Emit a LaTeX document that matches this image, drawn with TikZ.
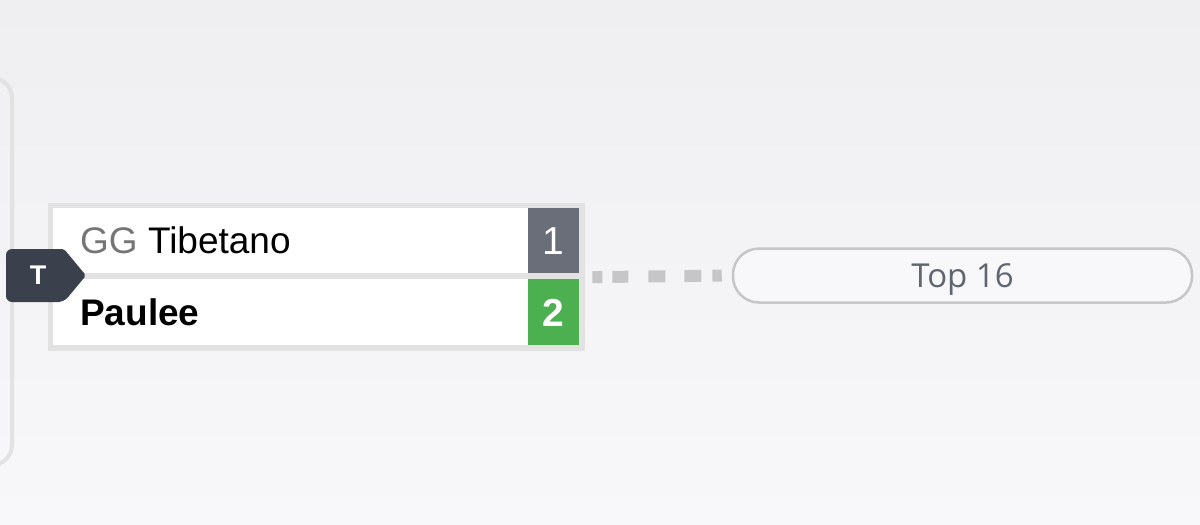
\documentclass[tikz,border=0pt]{standalone}
\usepackage{fontspec}
\setmainfont{Liberation Sans}
\newfontfamily\pillfont{Open Sans}
\usetikzlibrary{positioning}
\definecolor{bgtop}{HTML}{EFEFF1}
\definecolor{bgbot}{HTML}{F8F8FA}
\definecolor{framegray}{HTML}{E2E2E3}
\definecolor{badgedark}{HTML}{3A404C}
\definecolor{lossgray}{HTML}{6A6E78}
\definecolor{wingreen}{HTML}{4CAF50}
\definecolor{dashgray}{HTML}{C6C6C8}
\definecolor{pilltext}{HTML}{5F6670}
\definecolor{taggray}{HTML}{767676}

\begin{document}
\begin{tikzpicture}[x=1pt,y=-1pt,
    row/.style={fill=white,minimum width=475pt,minimum height=65pt,inner sep=0pt,anchor=north west},
    score/.style={minimum width=51pt,minimum height=65pt,inner sep=0pt,anchor=north west,
      text=white,text height=28pt,text depth=0pt,font=\fontsize{39}{46}\selectfont},
    player/.style={inner sep=0pt,text height=26.5pt,text depth=0pt,font=\fontsize{37}{44}\selectfont},
    link/.style={draw=dashgray,line width=12pt,
      dash pattern=on 10pt off 10pt on 16pt off 20pt on 17pt off 19pt on 17pt off 11pt on 10pt}]
  \useasboundingbox (0,0) rectangle (1200,525);
  \clip (0,0) rectangle (1200,525);
  % background
  \shade[top color=bgtop,bottom color=bgbot] (0,0) rectangle (1200,525);
  % round panel at the left
  \draw[framegray,line width=4pt,rounded corners=20pt] (-30,78) -- (12,78) -- (12,465) -- (-30,465);
  % match box
  \node[fill=framegray,minimum width=537pt,minimum height=148pt,inner sep=0pt,anchor=north west]
    (match) at (48,203) {};
  \node[row] (rowa) at (53,208) {};
  \node[row,minimum height=66pt] (rowb) at (53,279) {};
  \node[score,fill=lossgray] (scorea) at (528,208) {1};
  \node[score,fill=wingreen,minimum height=66pt] (scoreb) at (528,279) {\bfseries 2};
  \node[player,right=27pt of rowa.west] (namea) {\textcolor{taggray}{GG} Tibetano};
  \node[player,right=27pt of rowb.west] (nameb) {\bfseries Paulee};
  % round badge
  \fill[badgedark,rounded corners=6pt] (64,249) -- (6,249) -- (6,302) -- (64,302)
    [rounded corners=2pt] -- (86,275.5) -- cycle;
  \node[text=white,inner sep=0pt,text height=19.5pt,text depth=0pt,
    font=\fontsize{27}{32}\selectfont\bfseries] (round) at (38,274.5) {T};
  % next round
  \node[draw=dashgray,line width=2.5pt,fill=bgbot,rounded corners=26pt,
    minimum width=459pt,minimum height=54pt,inner sep=0pt,text=pilltext,
    text height=23.5pt,text depth=0pt,font=\pillfont\fontsize{33}{40}\selectfont]
    (next) at (962.5,275.5) {Top 16};
  \draw[link,shorten <=7pt,shorten >=10pt] (match.east) -- (next.west);
\end{tikzpicture}
\end{document}
